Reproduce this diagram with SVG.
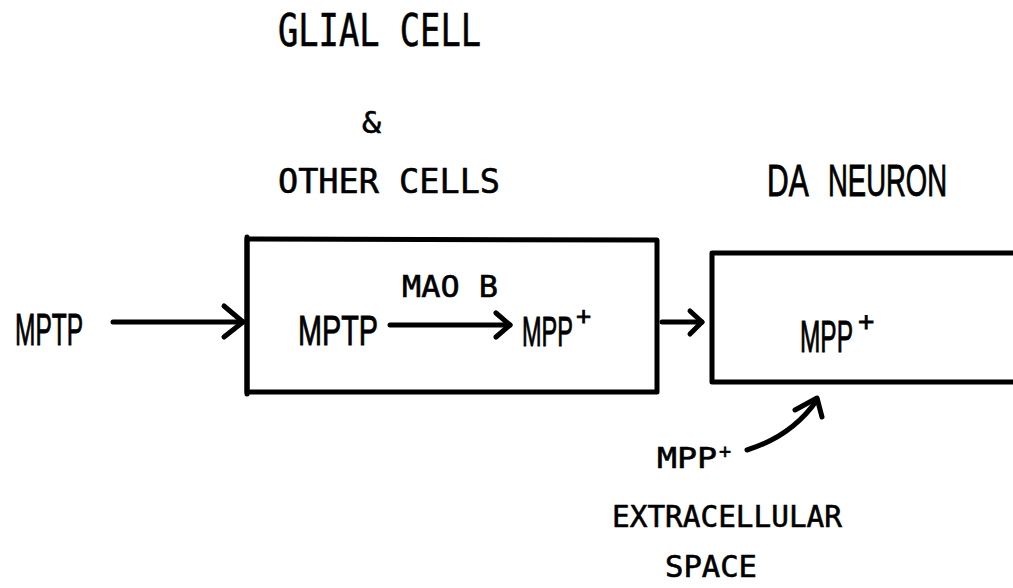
<svg xmlns="http://www.w3.org/2000/svg" width="1013" height="588" viewBox="0 0 1013 588">
<style>
text{font-family:"Liberation Sans",Arial,sans-serif;fill:#000;stroke:#000;stroke-width:0.9}
text.m{font-family:"DejaVu Sans Mono","Liberation Mono",monospace;stroke-width:0.6}
.ln{fill:none;stroke:#000;stroke-width:5;stroke-linecap:round;stroke-linejoin:round}
</style>
<rect width="1013" height="588" fill="#fff"/>
<g id="title-glial">
<text class="m" x="278" y="46" font-size="45" textLength="203" lengthAdjust="spacingAndGlyphs">GLIAL CELL</text>
<text class="m" x="362" y="133" font-size="31" textLength="19" lengthAdjust="spacingAndGlyphs">&amp;</text>
<text class="m" x="278" y="193" font-size="34" textLength="222" lengthAdjust="spacingAndGlyphs">OTHER CELLS</text>
</g>
<g id="title-da">
<text y="196" font-size="44"><tspan x="767" textLength="40" lengthAdjust="spacingAndGlyphs">DA</tspan> <tspan x="828" textLength="119" lengthAdjust="spacingAndGlyphs">NEURON</tspan></text>
</g>
<g id="mptp-outside">
<text x="15" y="345" font-size="44" textLength="68" lengthAdjust="spacingAndGlyphs">MPTP</text>
</g>
<g id="glial-box">
<path class="ln" d="M247,239 L657,240 L657,392 L247,392 Z" stroke-width="4"/>
<path class="ln" d="M247,237 L247,394" stroke-width="6"/>
<text x="298" y="345" font-size="42" textLength="80" lengthAdjust="spacingAndGlyphs">MPTP</text>
<text class="m" x="402" y="297" font-size="30" textLength="96" lengthAdjust="spacingAndGlyphs">MAO B</text>
<text y="346" font-size="43"><tspan x="522" textLength="51" lengthAdjust="spacingAndGlyphs">MPP</tspan><tspan x="576" dy="-21" font-size="26">+</tspan></text>
</g>
<g id="da-box">
<path class="ln" d="M1016,253 L712,253 L712,382 L1016,382" stroke-width="4"/>
<text y="352" font-size="44"><tspan x="800" textLength="53" lengthAdjust="spacingAndGlyphs">MPP</tspan><tspan x="858" dy="-21" font-size="28">+</tspan></text>
</g>
<g id="extracellular">
<text class="m" y="468" font-size="29"><tspan x="657" textLength="60" lengthAdjust="spacingAndGlyphs">MPP</tspan><tspan x="719" dy="-10" font-size="20">+</tspan></text>
<text class="m" x="612" y="527" font-size="30" textLength="230" lengthAdjust="spacingAndGlyphs">EXTRACELLULAR</text>
<text class="m" x="665" y="577" font-size="30" textLength="92" lengthAdjust="spacingAndGlyphs">SPACE</text>
</g>
<g id="connectors">
<path class="ln" d="M113,322 L243,322"/>
<path class="ln" d="M224,306 L243,322 L224,337"/>
<path class="ln" d="M390,325 L510,325"/>
<path class="ln" d="M496,313 L510,325 L496,337" stroke-width="6"/>
<path class="ln" d="M662,322 L702,322"/>
<path class="ln" d="M690,311 L702,322 L690,334"/>
<path class="ln" d="M747,450 Q792,436 817,400"/>
<path class="ln" d="M795,410 L817,398 L822,417"/>
</g>
</svg>
